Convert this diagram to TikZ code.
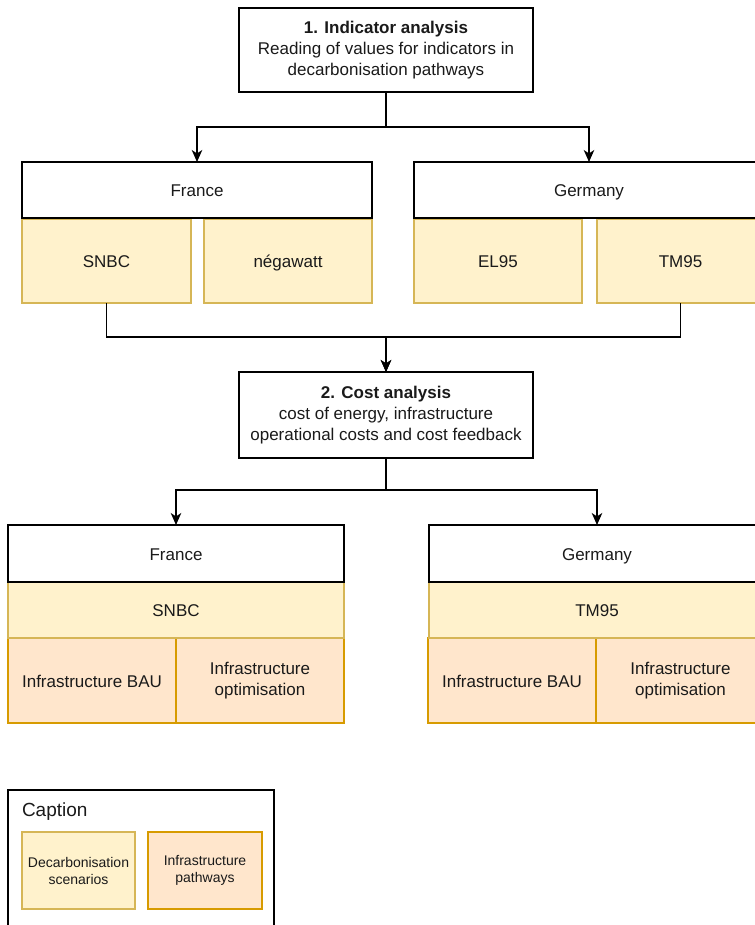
\documentclass[tikz,border=0pt]{standalone}
\usepackage{fontspec}
\setmainfont{Liberation Sans}
\usetikzlibrary{arrows.meta}
\definecolor{scenfill}{HTML}{FFF2CC}
\definecolor{scenline}{HTML}{D6B656}
\definecolor{pathfill}{HTML}{FFE6CC}
\definecolor{pathline}{HTML}{D79B00}
\definecolor{ink}{HTML}{1A1A1A}

\begin{document}
\begin{tikzpicture}[x=1pt,y=-1pt,
  every node/.style={inner sep=0pt, outer sep=0pt, align=center, text=ink,
    font=\fontsize{17}{21}\selectfont},
  oneline/.style={text height=14pt, text depth=0.4pt},
  stagebox/.style={draw=black, fill=white, line width=1.3pt},
  countrybox/.style={draw=black, fill=white, line width=1.3pt, oneline},
  scenbox/.style={draw=scenline, fill=scenfill, line width=1.3pt},
  pathbox/.style={draw=pathline, fill=pathfill, line width=1.3pt},
  link/.style={draw=black, line width=1.3pt,
    -{Stealth[length=12pt,width=10.5pt,inset=3.5pt]}},
]
\fill[white] (0,0) rectangle (754,925);
\useasboundingbox (0,0) rectangle (754,925);

% Stage 1
\node[stagebox, minimum width=294pt, minimum height=84pt] (ind) at (386,50)
  {\textbf{1. Indicator analysis}\\Reading of values for indicators in\\decarbonisation pathways};

% Stage 1: scenarios per country
\node[scenbox, oneline, minimum width=169pt, minimum height=84pt] (snbcA) at (106.5,261) {SNBC};
\node[scenbox, oneline, minimum width=168pt, minimum height=84pt] (nega) at (288,261) {négawatt};
\node[scenbox, oneline, minimum width=168pt, minimum height=84pt] (el) at (498,261) {EL95};
\node[scenbox, oneline, minimum width=167pt, minimum height=84pt] (tmA) at (680.5,261) {TM95};
\node[countrybox, minimum width=350pt, minimum height=56pt] (frA) at (197,190) {France};
\node[countrybox, minimum width=350pt, minimum height=56pt] (deA) at (589,190) {Germany};

% Stage 2
\node[stagebox, minimum width=294pt, minimum height=86pt] (cost) at (386,415)
  {\textbf{2. Cost analysis}\\cost of energy, infrastructure\\operational costs and cost feedback};

% Stage 2: scenario and infrastructure pathways per country
\node[pathbox, oneline, minimum width=168pt, minimum height=85pt] (bauA) at (92,680.5) {Infrastructure BAU};
\node[pathbox, minimum width=168pt, minimum height=85pt] (optA) at (260,680.5) {Infrastructure\\optimisation};
\node[pathbox, oneline, minimum width=168pt, minimum height=85pt] (bauB) at (512,680.5) {Infrastructure BAU};
\node[pathbox, minimum width=169pt, minimum height=85pt] (optB) at (680.5,680.5) {Infrastructure\\optimisation};
\node[scenbox, oneline, minimum width=336pt, minimum height=56pt] (snbcB) at (176,610) {SNBC};
\node[scenbox, oneline, minimum width=336pt, minimum height=56pt] (tmB) at (597,610) {TM95};
\node[countrybox, minimum width=336pt, minimum height=57pt] (frB) at (176,553.5) {France};
\node[countrybox, minimum width=336pt, minimum height=57pt] (deB) at (597,553.5) {Germany};

% Connectors
\draw[link] (ind.south) -- ++(0,35) -| (frA.north);
\draw[link] (ind.south) -- ++(0,35) -| (deA.north);
\draw[link] (snbcA.south) -- ++(0,34) -| (cost.north);
\draw[link] (tmA.south) -- ++(0,34) -| (cost.north);
\draw[link] (cost.south) -- ++(0,32) -| (frB.north);
\draw[link] (cost.south) -- ++(0,32) -| (deB.north);

% Legend
\node[draw=black, fill=white, line width=1.3pt, minimum width=266pt, minimum height=137pt]
  (legend) at (141,858.5) {};
\node[anchor=west, font=\fontsize{19}{23}\selectfont] (legendtitle) at (22,812) {Caption};
\node[scenbox, minimum width=113pt, minimum height=77pt, font=\fontsize{14}{17}\selectfont]
  (keyscen) at (78.5,870.5) {Decarbonisation\\scenarios};
\node[pathbox, minimum width=114pt, minimum height=77pt, font=\fontsize{14}{17}\selectfont]
  (keypath) at (205,870.5) {Infrastructure\\pathways};
\end{tikzpicture}
\end{document}
